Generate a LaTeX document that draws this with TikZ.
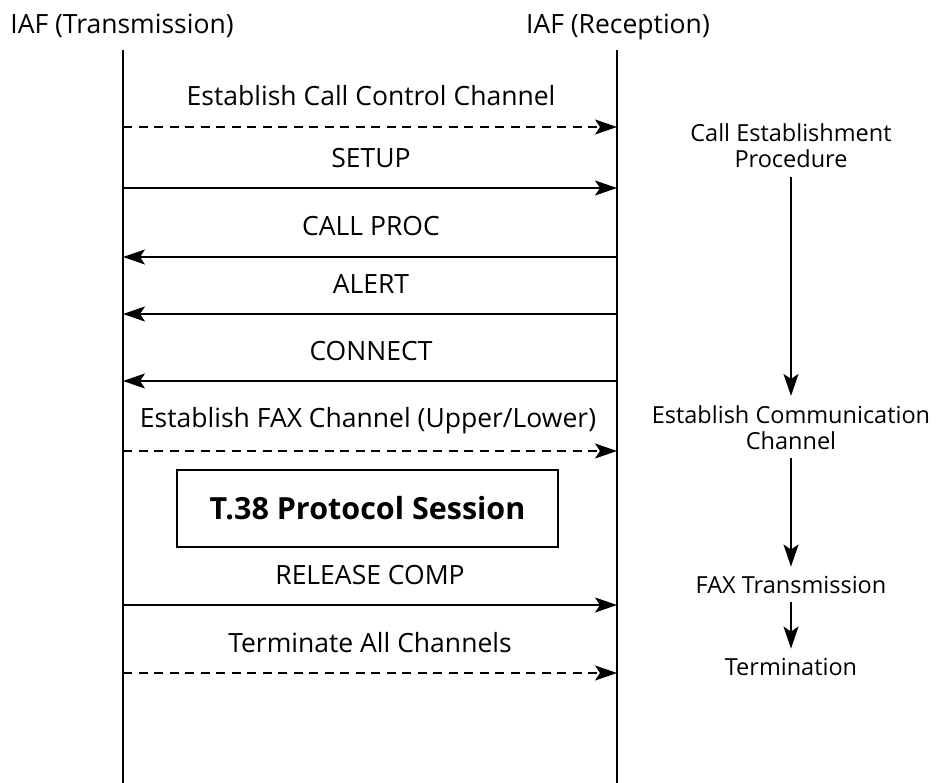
\documentclass[tikz,border=0pt]{standalone}
\usepackage{fontspec}
\setmainfont{Open Sans}
\usetikzlibrary{arrows.meta,positioning}

\tikzset{
  msg/.style={line width=1.9pt, -{Stealth[length=22pt,width=15pt,inset=5pt]}},
  msgdash/.style={msg, dash pattern=on 9pt off 6.5pt},
  lifeline/.style={line width=2.2pt},
  lbl/.style={font=\fontsize{26.5}{30}\selectfont, inner sep=0pt, anchor=base},
  phase/.style={font=\fontsize{23.5}{26}\selectfont, align=center, inner xsep=0pt, inner ysep=9pt, anchor=base},
}

\begin{document}
\begin{tikzpicture}[x=1pt,y=-1pt]
\useasboundingbox (0,0) rectangle (937,783);
% lifelines
\node[lbl] (tx) at (122,34) {IAF (Transmission)};
\node[lbl] (rx) at (618,34) {IAF (Reception)};
\coordinate (txtop) at (123,50); \coordinate (txbot) at (123,783);
\coordinate (rxtop) at (617,50); \coordinate (rxbot) at (617,783);
\draw[lifeline] (txtop) -- (txbot);
\draw[lifeline] (rxtop) -- (rxbot);
% messages
\coordinate (a1) at (123,127); \coordinate (b1) at (617,127);
\coordinate (a2) at (123,188); \coordinate (b2) at (617,188);
\coordinate (a3) at (123,257); \coordinate (b3) at (617,257);
\coordinate (a4) at (123,314); \coordinate (b4) at (617,314);
\coordinate (a5) at (123,381); \coordinate (b5) at (617,381);
\coordinate (a6) at (123,451); \coordinate (b6) at (617,451);
\coordinate (a7) at (123,605); \coordinate (b7) at (617,605);
\coordinate (a8) at (123,673); \coordinate (b8) at (617,673);
\draw[msgdash] (a1) -- (b1);
\node[lbl] (m1) at (371,106) {Establish Call Control Channel};
\draw[msg] (a2) -- (b2);
\node[lbl] (m2) at (371,168) {SETUP};
\draw[msg] (b3) -- (a3);
\node[lbl] (m3) at (371,236) {CALL PROC};
\draw[msg] (b4) -- (a4);
\node[lbl] (m4) at (371,294) {ALERT};
\draw[msg] (b5) -- (a5);
\node[lbl] (m5) at (371,361) {CONNECT};
\draw[msgdash] (a6) -- (b6);
\node[lbl] (m6) at (368,428) {Establish FAX Channel (Upper/Lower)};
\node[draw, line width=2pt, minimum width=381pt, minimum height=77pt,
  font=\fontsize{30.5}{34}\selectfont\bfseries] (t38) at (367.5,508.5) {T.38 Protocol Session};
\draw[msg] (a7) -- (b7);
\node[lbl] (m7) at (370,584) {RELEASE COMP};
\draw[msgdash] (a8) -- (b8);
\node[lbl] (m8) at (370,652) {Terminate All Channels};
% phases
\node[phase] (p1) at (791,168) {Call Establishment\\Procedure};
\node[phase] (p2) at (791,449) {Establish Communication\\Channel};
\node[phase] (p3) at (791,593) {FAX Transmission};
\node[phase] (p4) at (791,675) {Termination};
\draw[msg] (p1) -- (p2);
\draw[msg] (p2) -- (p3);
\draw[msg] (p3) -- (p4);
\end{tikzpicture}
\end{document}
